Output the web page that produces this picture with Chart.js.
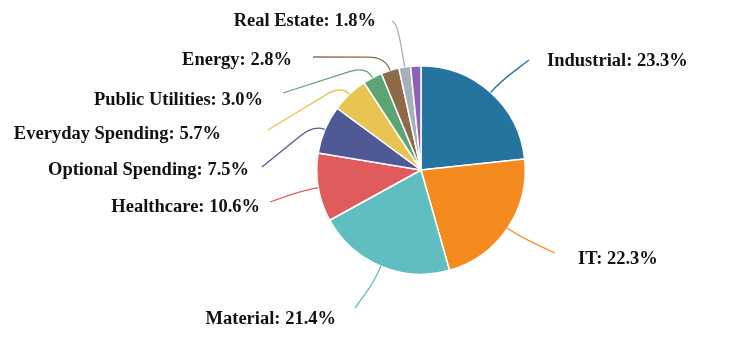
<!DOCTYPE html>
<html>
<head>
<meta charset="utf-8">
<title>Sector weights</title>
<script src="https://cdn.jsdelivr.net/npm/chart.js@4.4.1/dist/chart.umd.min.js"></script>
<style>
  html, body { margin: 0; padding: 0; background: #fff; }
  #wrap { width: 741px; height: 340px; position: relative; }
</style>
</head>
<body>
<div id="wrap"><canvas id="sectorPie"></canvas></div>
<script>
const sectors = ['Industrial', 'IT', 'Material', 'Healthcare', 'Optional Spending',
  'Everyday Spending', 'Public Utilities', 'Energy', 'Real Estate', 'Other'];
const shares = [23.3, 22.3, 21.4, 10.6, 7.5, 5.7, 3.0, 2.8, 1.8, 1.6];
const sliceColors = ['#25749f', '#f58a1f', '#60bec0', '#e05b5b', '#4e5995',
  '#e8c453', '#5ba474', '#8d6b4a', '#a5b0bb', '#8c62b7'];

// where each callout line ends and where its text sits (null = no callout)
const callouts = [
  { elbow: 14, end: [529, 60],  text: [547, 66],  align: 'left' },
  { elbow: 14, end: [555, 253], text: [578, 264], align: 'left' },
  { elbow: 16, end: [355, 308], text: [336, 324], align: 'right' },
  { elbow: 14, end: [270, 202], text: [260, 212], align: 'right' },
  { elbow: 12, end: [262, 167], text: [249, 175], align: 'right' },
  { elbow: 12, end: [268, 130], text: [221, 139], align: 'right' },
  { elbow: 13, end: [283, 93],  text: [263, 105], align: 'right' },
  { elbow: 14, end: [313, 57],  text: [292, 65],  align: 'right' },
  { elbow: 40, end: [392, 21],  text: [376, 26],  align: 'right' },
  null
];

const calloutPlugin = {
  id: 'callouts',
  afterDatasetsDraw(chart) {
    const ctx = chart.ctx;
    const meta = chart.getDatasetMeta(0);
    ctx.save();
    meta.data.forEach((arc, i) => {
      const c = callouts[i];
      if (!c) return;
      const p = arc.getProps(['x', 'y', 'startAngle', 'endAngle', 'outerRadius'], true);
      const mid = (p.startAngle + p.endAngle) / 2;
      const cos = Math.cos(mid), sin = Math.sin(mid);
      const x0 = p.x + p.outerRadius * cos;
      const y0 = p.y + p.outerRadius * sin;
      const x1 = p.x + (p.outerRadius + c.elbow) * cos;
      const y1 = p.y + (p.outerRadius + c.elbow) * sin;

      // smooth bend: curve through the elbow, then straight to the end
      const dx = c.end[0] - x1, dy = c.end[1] - y1;
      const len = Math.hypot(dx, dy);
      const t = Math.min(18, len * 0.5) / len;
      const xm = x1 + dx * t, ym = y1 + dy * t;

      ctx.beginPath();
      ctx.moveTo(x0, y0);
      ctx.quadraticCurveTo(x1, y1, xm, ym);
      ctx.lineTo(c.end[0], c.end[1]);
      ctx.strokeStyle = sliceColors[i];
      ctx.lineWidth = 1.3;
      ctx.stroke();

      ctx.font = 'bold 18.5px "Liberation Serif", "Times New Roman", serif';
      ctx.fillStyle = '#111';
      ctx.textAlign = c.align;
      ctx.textBaseline = 'alphabetic';
      ctx.fillText(sectors[i] + ': ' + shares[i].toFixed(1) + '%', c.text[0], c.text[1]);
    });
    ctx.restore();
  }
};

new Chart(document.getElementById('sectorPie'), {
  type: 'pie',
  data: {
    labels: sectors,
    datasets: [{
      data: shares,
      backgroundColor: sliceColors,
      borderColor: '#ffffff',
      borderWidth: 1.5
    }]
  },
  options: {
    responsive: true,
    maintainAspectRatio: false,
    animation: false,
    layout: { padding: { top: 65, bottom: 65, left: 316, right: 215 } },
    plugins: {
      legend: { display: false },
      tooltip: { enabled: false }
    }
  },
  plugins: [calloutPlugin]
});
</script>
</body>
</html>
